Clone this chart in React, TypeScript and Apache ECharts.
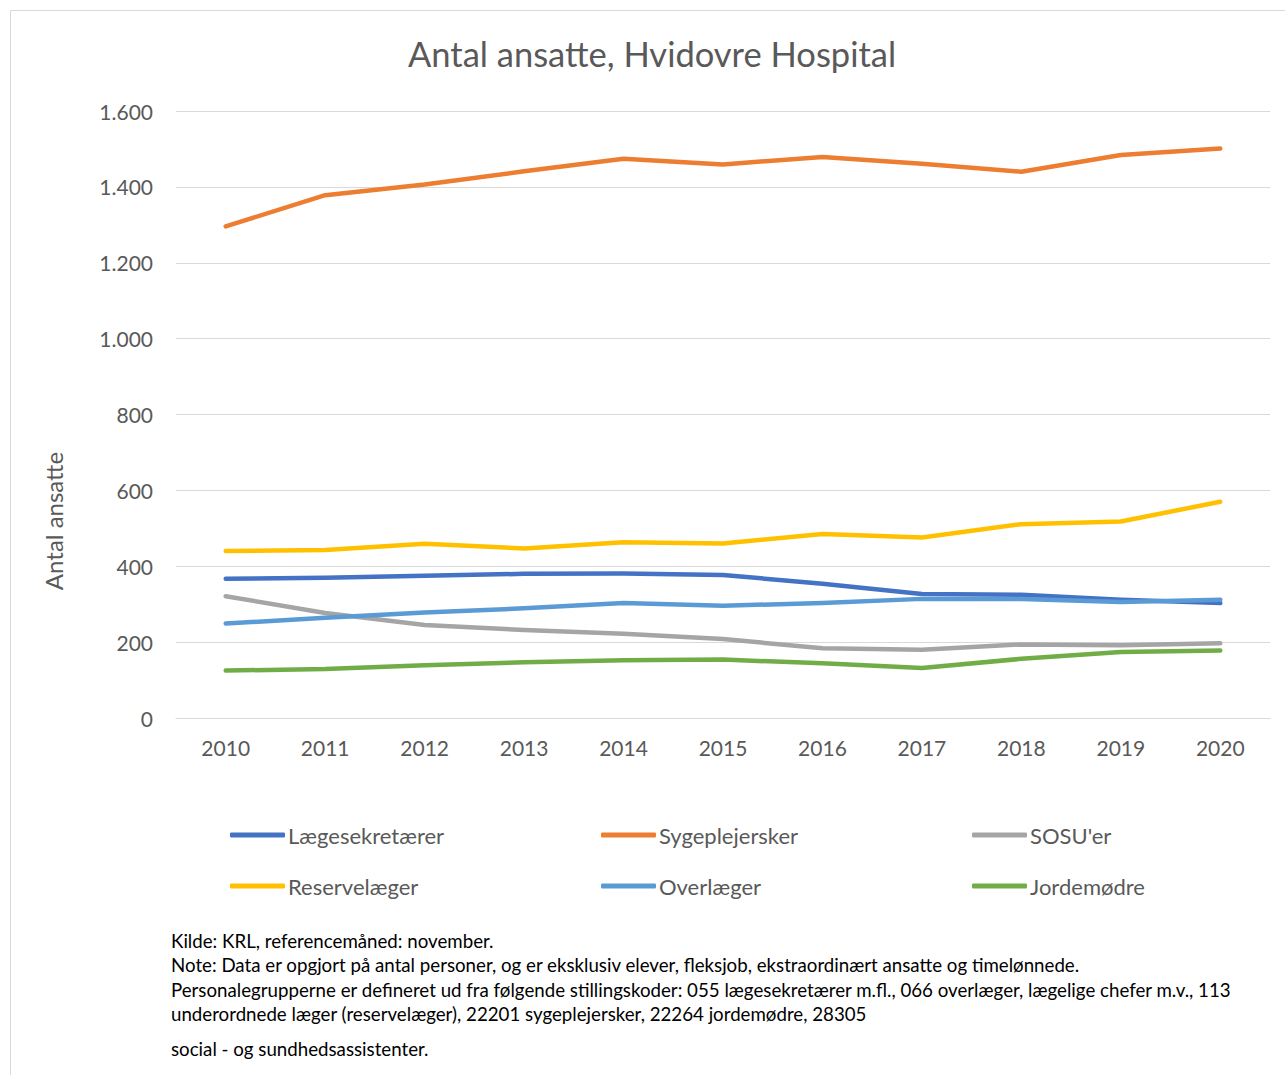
import React, { useEffect, useRef } from "react";
import * as echarts from "echarts";

const years = ["2010", "2011", "2012", "2013", "2014", "2015", "2016", "2017", "2018", "2019", "2020"];
const laegesekretaerer = [367, 370, 375, 380, 381, 377, 354, 327, 325, 312, 303];
const sygeplejersker = [1296, 1378, 1406, 1441, 1474, 1459, 1479, 1461, 1440, 1484, 1501];
const sosuer = [321, 277, 245, 232, 222, 208, 184, 180, 194, 192, 197];
const reservelaeger = [440, 443, 459, 447, 463, 460, 485, 476, 511, 518, 570];
const overlaeger = [249, 264, 278, 289, 303, 296, 303, 314, 314, 306, 312];
const jordemoedre = [125, 129, 139, 147, 152, 154, 144, 132, 156, 174, 178];

const seriesNames = ["Lægesekretærer", "Sygeplejersker", "SOSU'er", "Reservelæger", "Overlæger", "Jordemødre"];
const seriesData = [laegesekretaerer, sygeplejersker, sosuer, reservelaeger, overlaeger, jordemoedre];
const colors = ["#4472C4", "#ED7D31", "#A5A5A5", "#FFC000", "#5B9BD5", "#70AD47"];

const footLines = [
  "Kilde: KRL, referencemåned: november.",
  "Note: Data er opgjort på antal personer, og er eksklusiv elever, fleksjob, ekstraordinært ansatte og timelønnede.",
  "Personalegrupperne er defineret ud fra følgende stillingskoder: 055 lægesekretærer m.fl., 066 overlæger, lægelige chefer m.v., 113",
  "underordnede læger (reservelæger), 22201 sygeplejersker, 22264 jordemødre, 28305",
  "social - og sundhedsassistenter.",
];
const footY = [941, 965, 990, 1014, 1049];

const FONT = "Lato, 'Open Sans', sans-serif";

export default function App() {
  const ref = useRef<HTMLDivElement>(null);
  useEffect(() => {
    document.body.style.margin = "0";
    const chart = echarts.init(ref.current!, null, { renderer: "svg" });
    const legendCols = [230, 601, 972];
    const legends = legendCols.map((x, i) => ({
      orient: "vertical",
      left: x,
      top: 823,
      padding: 0,
      itemWidth: 55,
      itemHeight: 5,
      itemGap: 27,
      icon: "roundRect",
      data: [seriesNames[i], seriesNames[i + 3]],
      textStyle: { fontFamily: FONT, fontSize: 22, lineHeight: 24, color: "#595959", padding: [0, 0, 0, -2] },
    }));
    chart.setOption({
      animation: false,
      color: colors,
      title: {
        text: "Antal ansatte, Hvidovre Hospital",
        left: 408,
        top: 36,
        padding: 0,
        textStyle: { fontFamily: FONT, fontSize: 34.5, fontWeight: "normal", color: "#595959" },
      },
      legend: legends,
      grid: { left: 176, right: 15, top: 111, bottom: 357 },
      xAxis: {
        type: "category",
        data: years,
        boundaryGap: true,
        axisLine: { show: true, lineStyle: { color: "#d9d9d9", width: 1 } },
        axisTick: { show: false },
        axisLabel: { fontFamily: FONT, fontSize: 21, color: "#595959", margin: 19 },
      },
      yAxis: {
        type: "value",
        min: 0,
        max: 1600,
        interval: 200,
        axisLine: { show: false },
        axisTick: { show: false },
        splitLine: { lineStyle: { color: "#d9d9d9", width: 1 } },
        axisLabel: {
          fontFamily: FONT,
          fontSize: 21,
          color: "#595959",
          margin: 23,
          formatter: (v: number) => v.toLocaleString("de-DE"),
        },
      },
      series: seriesNames.map((name, i) => ({
        name,
        type: "line",
        data: seriesData[i],
        symbol: "none",
        lineStyle: { width: 4.5, cap: "round", join: "round", color: colors[i] },
        itemStyle: { color: colors[i] },
      })),
      graphic: [
        {
          type: "rect",
          shape: { x: 10.5, y: 10.5, width: 1300, height: 1100 },
          style: { fill: "none", stroke: "#d9d9d9", lineWidth: 1 },
          silent: true,
        },
        {
          type: "text",
          x: 53,
          y: 521,
          rotation: Math.PI / 2,
          style: {
            text: "Antal ansatte",
            fontFamily: FONT,
            fontSize: 24,
            fill: "#595959",
            align: "center",
            verticalAlign: "middle",
          },
        },
        ...footLines.map((t, i) => ({
          type: "text",
          x: 171,
          y: footY[i],
          style: {
            text: t,
            fontFamily: FONT,
            fontSize: 18.7,
            fill: "#000000",
            align: "left",
            verticalAlign: "middle",
          },
        })),
      ],
    });
    return () => chart.dispose();
  }, []);
  return <div ref={ref} style={{ width: 1285, height: 1075 }} />;
}
